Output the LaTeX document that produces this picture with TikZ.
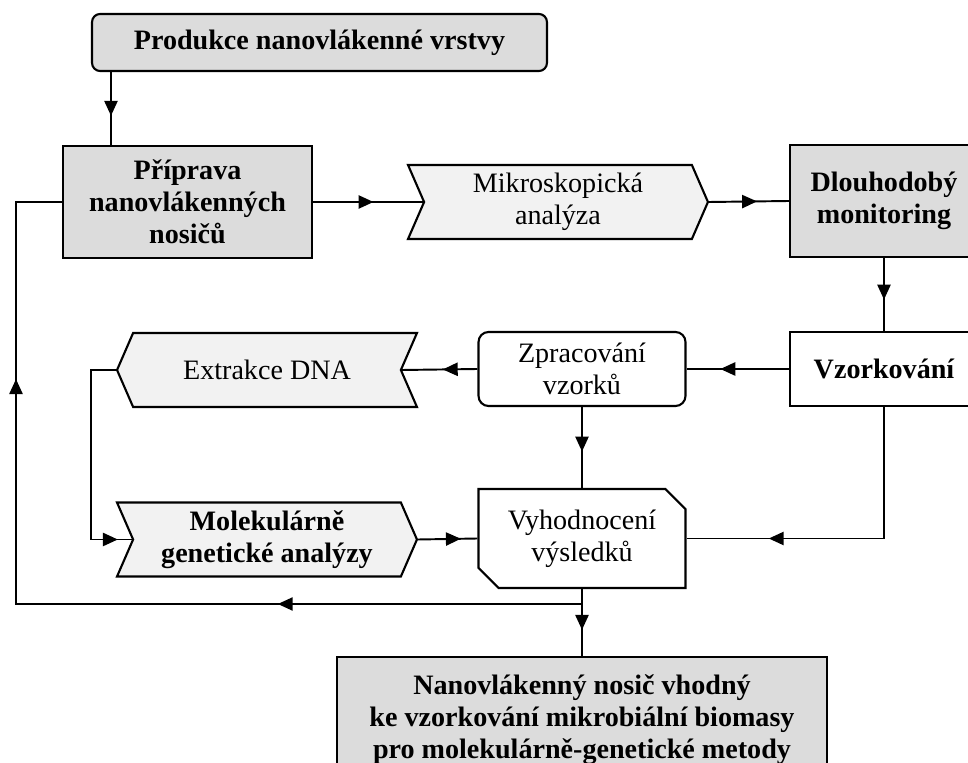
\documentclass[tikz,border=0pt]{standalone}
\usepackage{fontspec}
\setmainfont{Liberation Serif}
\usepackage{tikz}
\usetikzlibrary{arrows.meta, positioning, shapes.symbols, shapes.misc, decorations.markings}
\definecolor{boxgray}{HTML}{DCDCDC}
\definecolor{chevgray}{HTML}{F2F2F2}
\newcommand{\boxfont}{\fontsize{16}{18.3}\selectfont}
\tikzset{
	graybox/.style={draw, line width=1.2pt, fill=boxgray, align=center,
		inner sep=2pt, font=\boxfont\bfseries},
	whitebox/.style={draw, line width=1.2pt, fill=white, align=center, inner sep=2pt},
	chev/.style={draw, line width=1.2pt, fill=chevgray, signal, signal pointer angle=133,
		align=center, minimum width=6cm, minimum height=1.48cm, inner sep=2pt},
	conn/.style={line width=1.1pt},
	arrowat/.style={postaction={decorate, decoration={markings,
		mark=at position #1 with {\arrow{Triangle[length=8.5pt,width=7.5pt]}}}}},
}
\begin{document}
\begin{tikzpicture}[x=0.02cm, y=-0.02cm, font=\boxfont]
	\useasboundingbox (0,0) rectangle (968,763);
	% boxes
	\node[graybox, rounded corners=0.16cm, minimum width=9.1cm, minimum height=1.14cm] (prod) at (319.5,42.5) {Produkce nanovlákenné vrstvy};
	\node[graybox, minimum width=4.98cm, minimum height=2.24cm] (prip) at (187.5,202) {Příprava\\nanovlákenných\\nosičů};
	\node[chev, signal to=east, signal from=west] (mikro) at (558,202) {Mikroskopická\\analýza};
	\node[graybox, minimum width=3.76cm, minimum height=2.24cm] (dlouh) at (884,201) {Dlouhodobý\\monitoring};
	\node[whitebox, font=\boxfont\bfseries, minimum width=3.76cm, minimum height=1.48cm] (vzork) at (884,369) {Vzorkování};
	\node[whitebox, rounded corners=0.2cm, minimum width=4.14cm, minimum height=1.48cm] (zprac) at (582,369) {Zpracování\\vzorků};
	\node[chev, signal to=west, signal from=east] (extr) at (267,370) {Extrakce DNA};
	\node[chev, signal to=east, signal from=west, font=\boxfont\bfseries] (molek) at (267,539.5) {Molekulárně\\genetické analýzy};
	\node[whitebox, chamfered rectangle, chamfered rectangle corners={north east, south west},
		chamfered rectangle xsep=0.2cm, chamfered rectangle ysep=0.2cm,
		minimum width=4.14cm, minimum height=1.98cm] (vyhod) at (582,538.5) {Vyhodnocení\\výsledků};
	\node[graybox, minimum width=9.8cm, minimum height=2.52cm] (fin) at (582,720) {Nanovlákenný nosič vhodný\\ke vzorkování mikrobiální biomasy\\pro molekulárně-genetické metody};
	% connectors
	\draw[conn, arrowat=0.6] ([xshift=0.4cm]prod.south west) -- ([xshift=0.4cm]prod.south west |- prip.north);
	\draw[conn, arrowat=0.55] (prip.east) -- (mikro.west);
	\draw[conn, arrowat=0.6] (mikro.east) -- (dlouh.west);
	\draw[conn, arrowat=0.57] (dlouh.south) -- (vzork.north);
	\draw[conn, arrowat=0.67] (vzork.west) -- (zprac.east);
	\draw[conn, arrowat=0.46] (zprac.west) -- (extr.east);
	\draw[conn, arrowat=0.94] (extr.west) -- ++(-25,0) |- (molek.west);
	\draw[conn, arrowat=0.72] (molek.east) -- (vyhod.west);
	\draw[conn, arrowat=0.55] (zprac.south) -- (vyhod.north);
	\draw[conn, arrowat=0.75] (vzork.south) |- (vyhod.east);
	\draw[conn, arrowat=0.61] (vyhod.south) -- (fin.north);
	\coordinate (fb) at (582,604);
	\draw[conn, arrowat=0.3, arrowat=0.78] (fb) -- ++(-566,0) |- (prip.west);
\end{tikzpicture}
\end{document}
